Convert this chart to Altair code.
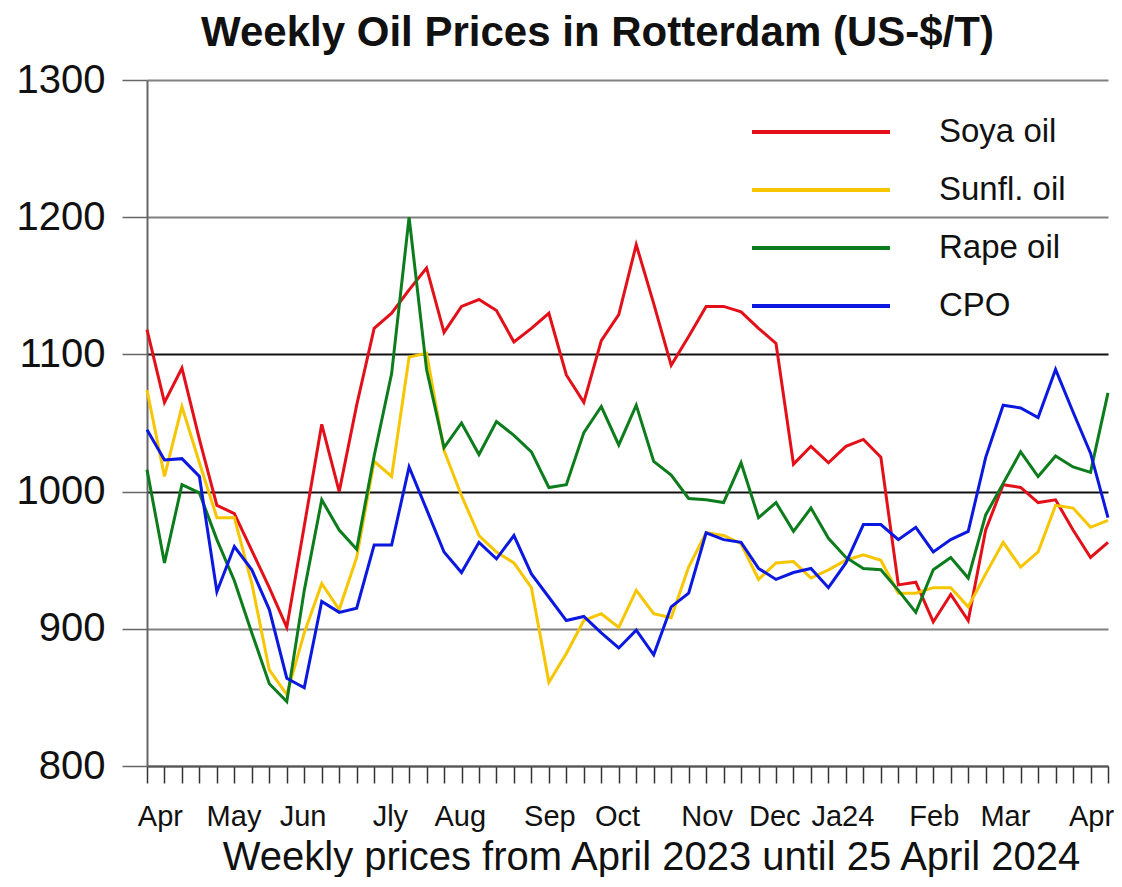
import altair as alt
import pandas as pd

# ---- data ----
weeks = list(range(56))

soya = [1118, 1065, 1090, 1038, 990, 984, 957, 930, 901, 975,
        1049, 1000, 1063, 1119, 1130, 1147, 1163, 1116, 1135, 1140,
        1132, 1109, 1119, 1130, 1085, 1065, 1110, 1129, 1180, 1137,
        1092, 1113, 1135, 1135, 1131, 1119, 1108, 1020, 1033, 1021,
        1033, 1038, 1025, 932, 934, 905, 925, 906, 972, 1005,
        1003, 992, 994, 972, 952, 963]

sunfl = [1074, 1011, 1062, 1021, 981, 981, 933, 870, 852, 897,
         933, 914, 952, 1022, 1011, 1098, 1101, 1030, 997, 968,
         956, 948, 930, 861, 882, 906, 911, 901, 928, 911,
         908, 945, 970, 968, 962, 936, 948, 949, 937, 943,
         950, 954, 950, 926, 926, 930, 930, 916, 940, 963,
         945, 956, 990, 988, 974, 979]

rape = [1016, 948, 1005, 999, 965, 935, 897, 860, 847, 928,
        994, 972, 958, 1026, 1086, 1200, 1089, 1032, 1050, 1027,
        1051, 1041, 1029, 1003, 1005, 1043, 1062, 1034, 1063, 1022,
        1012, 995, 994, 992, 1021, 981, 992, 971, 988, 966,
        952, 944, 943, 928, 912, 943, 952, 937, 983, 1006,
        1029, 1011, 1026, 1018, 1014, 1072]

cpo = [1045, 1023, 1024, 1011, 927, 960, 943, 914, 864, 857,
       920, 912, 915, 961, 961, 1018, 987, 956, 941, 963,
       951, 968, 940, 923, 906, 909, 897, 886, 899, 881,
       916, 926, 970, 965, 963, 944, 936, 941, 944, 930,
       948, 976, 976, 965, 974, 956, 965, 971, 1025, 1063,
       1061, 1054, 1089, 1058, 1028, 981]

series_names = ["Soya oil", "Sunfl. oil", "Rape oil", "CPO"]
series_colors = ["#e3101a", "#f7c600", "#0c7c1c", "#0b18e0"]

month_labels = ["Apr", "May", "Jun", "Jly", "Aug", "Sep", "Oct",
                "Nov", "Dec", "Ja24", "Feb", "Mar", "Apr"]
month_pos = [0.74, 4.95, 8.9, 13.9, 17.9, 23.03, 26.9,
             32.03, 35.9, 39.8, 45.03, 49.1, 54.03]

y_ticks = [800, 900, 1000, 1100, 1200, 1300]

# ---- build long table ----
rows = []
for name, vals in zip(series_names, [soya, sunfl, rape, cpo]):
    for w, v in zip(weeks, vals):
        rows.append({"week": w, "price": v, "series": name})
df = pd.DataFrame(rows)

FONT = "Liberation Sans"

pos_js = "[" + ",".join(str(p) for p in month_pos) + "]"
lab_js = "[" + ",".join("'" + m + "'" for m in month_labels) + "]"
label_expr = (f"indexof({pos_js}, datum.value) >= 0 ? "
              f"{lab_js}[indexof({pos_js}, datum.value)] : ''")
tick_test = f"indexof({pos_js}, datum.value) >= 0"

x_axis = alt.Axis(
    values=weeks + month_pos,
    labelExpr=label_expr,
    labelFontSize=29,
    labelFont=FONT,
    labelColor="#111",
    labelPadding=19,
    labelOverlap=False,
    labelFlush=False,
    labelBound=False,
    tickSize=17,
    tickWidth=1.5,
    tickColor={"condition": {"test": tick_test, "value": "transparent"}, "value": "#333"},
    domainColor="#555",
    domainWidth=2,
    grid=False,
    title="Weekly prices from April 2023 until 25 April 2024",
    titleFontSize=40,
    titleFont=FONT,
    titleFontWeight="normal",
    titleColor="#111",
    titleBaseline="alphabetic",
    titleX=504,
    titleY=103,
    titleAnchor="middle",
)

y_axis = alt.Axis(
    values=y_ticks,
    format="d",
    labelFontSize=40,
    labelFont=FONT,
    labelColor="#111",
    labelPadding=17,
    tickSize=25,
    tickColor="#666",
    tickWidth=1.5,
    domainColor="#666",
    domainWidth=2,
    grid=True,
    gridWidth=2,
    gridColor={"condition": {"test": "datum.value == 1000 || datum.value == 1100",
                             "value": "#111"}, "value": "#808080"},
    title=None,
)

chart = alt.Chart(df).mark_line(strokeWidth=3).encode(
    x=alt.X("week:Q", scale=alt.Scale(domain=[0, 55], nice=False, zero=False), axis=x_axis),
    y=alt.Y("price:Q", scale=alt.Scale(domain=[800, 1300], nice=False, zero=False), axis=y_axis),
    color=alt.Color(
        "series:N",
        scale=alt.Scale(domain=series_names, range=series_colors),
        legend=alt.Legend(
            orient="none",
            legendX=603,
            legendY=35,
            title=None,
            symbolType="stroke",
            symbolSize=19044,
            symbolStrokeWidth=4,
            labelFontSize=33,
            labelFont=FONT,
            labelColor="#111",
            labelOffset=47,
            clipHeight=34,
            rowPadding=24,
            padding=0,
        ),
    ),
).properties(
    width=961,
    height=686,
    title=alt.TitleParams(
        text="Weekly Oil Prices in Rotterdam (US-$/T)",
        fontSize=42,
        font=FONT,
        fontWeight="bold",
        color="#111",
        anchor="middle",
        dx=-30,
        offset=5,
    ),
    autosize=alt.AutoSizeParams(type="none"),
    padding={"left": 139, "top": 72, "right": 6, "bottom": 111},
).configure_view(stroke=None)

chart.save("out.html", embed_options={"renderer": "svg", "actions": False})
